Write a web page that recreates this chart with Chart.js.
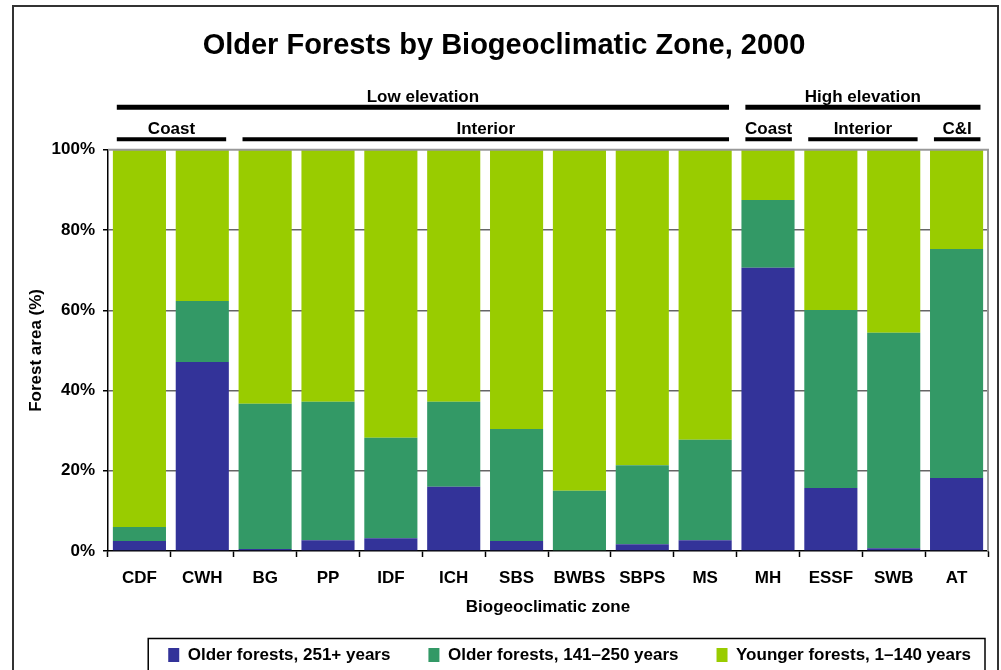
<!DOCTYPE html>
<html>
<head>
<meta charset="utf-8">
<title>Older Forests by Biogeoclimatic Zone, 2000</title>
<script src="https://cdn.jsdelivr.net/npm/chart.js@4.4.1/dist/chart.umd.min.js"></script>
<style>
  html, body { margin: 0; padding: 0; width: 1001px; height: 670px; overflow: hidden; background: #fff; }
  #frame { position: absolute; left: 12px; top: 5px; width: 983px; height: 700px; border: 2px solid #333; }
  #wrap { position: absolute; left: 0; top: 0; width: 1001px; height: 700px; }
</style>
</head>
<body>
<div id="frame"></div>
<div id="wrap"><canvas id="forestChart" width="1001" height="700"></canvas></div>
<script>
// zones along the x axis
const zones = ['CDF', 'CWH', 'BG', 'PP', 'IDF', 'ICH', 'SBS', 'BWBS', 'SBPS', 'MS', 'MH', 'ESSF', 'SWB', 'AT'];

// share of forest area (%) by age class
const older251 = [2.5, 47.1, 0.5, 2.7, 3.2, 16.0, 2.5, 0, 1.7, 2.7, 70.6, 15.7, 0.7, 18.2];
const older141 = [3.5, 15.2, 36.2, 34.5, 25.0, 21.2, 27.9, 15.0, 19.7, 25.0, 16.9, 44.4, 53.7, 57.1];
const younger = [94.0, 37.7, 63.3, 62.8, 71.8, 62.8, 69.6, 85.0, 78.6, 72.3, 12.5, 39.9, 45.6, 24.7];

const yTicks = [0, 20, 40, 60, 80, 100];

// bracket labels above the bars (first and last zone index)
const elevationGroups = [
  { label: 'Low elevation', from: 0, to: 9 },
  { label: 'High elevation', from: 10, to: 13 }
];
const regionGroups = [
  { label: 'Coast', from: 0, to: 1 },
  { label: 'Interior', from: 2, to: 9 },
  { label: 'Coast', from: 10, to: 10 },
  { label: 'Interior', from: 11, to: 12 },
  { label: 'C&I', from: 13, to: 13 }
];

const FONT = "'Liberation Sans', Arial, sans-serif";

// nudge the legend row: a bit higher and further right than the default layout puts it
const legendShift = {
  id: 'legendShift',
  afterLayout(chart) {
    const lg = chart.legend;
    lg.top -= 9;
    lg.bottom -= 9;
    lg.left += 21;
    lg.right += 21;
  }
};

const groupHeaders = {
  id: 'groupHeaders',
  afterDraw(chart) {
    const { ctx, chartArea, scales: { x } } = chart;
    const w = x.width / zones.length;
    ctx.save();
    ctx.fillStyle = '#000';
    ctx.strokeStyle = '#000';
    ctx.textAlign = 'center';
    ctx.textBaseline = 'middle';
    ctx.font = 'bold 17px ' + FONT;
    const rows = [
      { groups: elevationGroups, lineY: chartArea.top - 42.5, lw: 5, textY: chartArea.top - 52 },
      { groups: regionGroups, lineY: chartArea.top - 10.5, lw: 4, textY: chartArea.top - 20 }
    ];
    rows.forEach(row => {
      row.groups.forEach(g => {
        const x0 = x.getPixelForValue(g.from) - 0.36 * w;
        const x1 = x.getPixelForValue(g.to) + 0.38 * w;
        ctx.lineWidth = row.lw;
        ctx.beginPath();
        ctx.moveTo(x0, row.lineY);
        ctx.lineTo(x1, row.lineY);
        ctx.stroke();
        ctx.fillText(g.label, (x0 + x1) / 2, row.textY);
      });
    });

    // grey top and right edge of the plot area
    ctx.strokeStyle = '#999';
    ctx.lineWidth = 2;
    ctx.beginPath();
    ctx.moveTo(chartArea.left, chartArea.top);
    ctx.lineTo(chartArea.right, chartArea.top);
    ctx.lineTo(chartArea.right, chartArea.bottom);
    ctx.stroke();

    // box around the legend
    const boxes = chart.legend.legendHitBoxes;
    if (boxes && boxes.length) {
      const first = boxes[0];
      const last = boxes[boxes.length - 1];
      const left = first.left - 20;
      const right = last.left + last.width + 14;
      ctx.strokeStyle = '#000';
      ctx.lineWidth = 1.5;
      ctx.strokeRect(left, first.top - 8, right - left, first.height + 40);
    }
    ctx.restore();
  }
};

const ctx = document.getElementById('forestChart').getContext('2d');
const chart = new Chart(ctx, {
  type: 'bar',
  data: {
    labels: zones,
    datasets: [
      { label: 'Older forests, 251+ years', data: older251, backgroundColor: '#333399' },
      { label: 'Older forests, 141\u2013250 years', data: older141, backgroundColor: '#339966' },
      { label: 'Younger forests, 1\u2013140 years', data: younger, backgroundColor: '#99CC00' }
    ]
  },
  options: {
    responsive: false,
    animation: false,
    devicePixelRatio: 1,
    layout: { padding: { left: 20, right: 13, top: 10, bottom: 17.5 } },
    datasets: { bar: { categoryPercentage: 1, barPercentage: 0.845 } },
    plugins: {
      title: {
        display: true,
        text: 'Older Forests by Biogeoclimatic Zone, 2000',
        color: '#000',
        font: { family: FONT, size: 29, weight: 'bold' },
        padding: { top: 19, bottom: 86 }
      },
      legend: {
        position: 'bottom',
        align: 'end',
        labels: {
          color: '#000',
          font: { family: FONT, size: 17, weight: 'bold' },
          boxWidth: 11,
          boxHeight: 14,
          padding: 38
        }
      },
      tooltip: { enabled: false }
    },
    scales: {
      x: {
        stacked: true,
        afterFit: s => { s.height = 66.5; },
        border: { color: '#000', width: 1.5 },
        grid: { drawOnChartArea: false, tickLength: 6, tickColor: '#000', tickWidth: 1.5 },
        ticks: { color: '#000', font: { family: FONT, size: 17, weight: 'bold' }, padding: 11, maxRotation: 0 },
        title: {
          display: true,
          text: 'Biogeoclimatic zone',
          color: '#000',
          font: { family: FONT, size: 17, weight: 'bold' },
          padding: { top: 0, bottom: 0 }
        }
      },
      y: {
        stacked: true,
        min: 0,
        max: 100,
        afterFit: s => { s.width = 88; },
        afterBuildTicks: s => { s.ticks = yTicks.map(v => ({ value: v })); },
        border: { color: '#000', width: 1.5 },
        grid: {
          color: c => (c.tick && (c.tick.value === 0 || c.tick.value === 100)) ? 'rgba(0,0,0,0)' : '#666',
          lineWidth: 1.5,
          tickLength: 5,
          tickColor: '#000',
          tickWidth: 1.5
        },
        ticks: {
          color: '#000',
          font: { family: FONT, size: 17, weight: 'bold' },
          padding: 8,
          callback: v => v + '%'
        },
        title: {
          display: true,
          text: 'Forest area (%)',
          color: '#000',
          font: { family: FONT, size: 17, weight: 'bold' },
          padding: { top: 6, bottom: 0 }
        }
      }
    }
  },
  plugins: [legendShift, groupHeaders]
});
</script>
</body>
</html>
